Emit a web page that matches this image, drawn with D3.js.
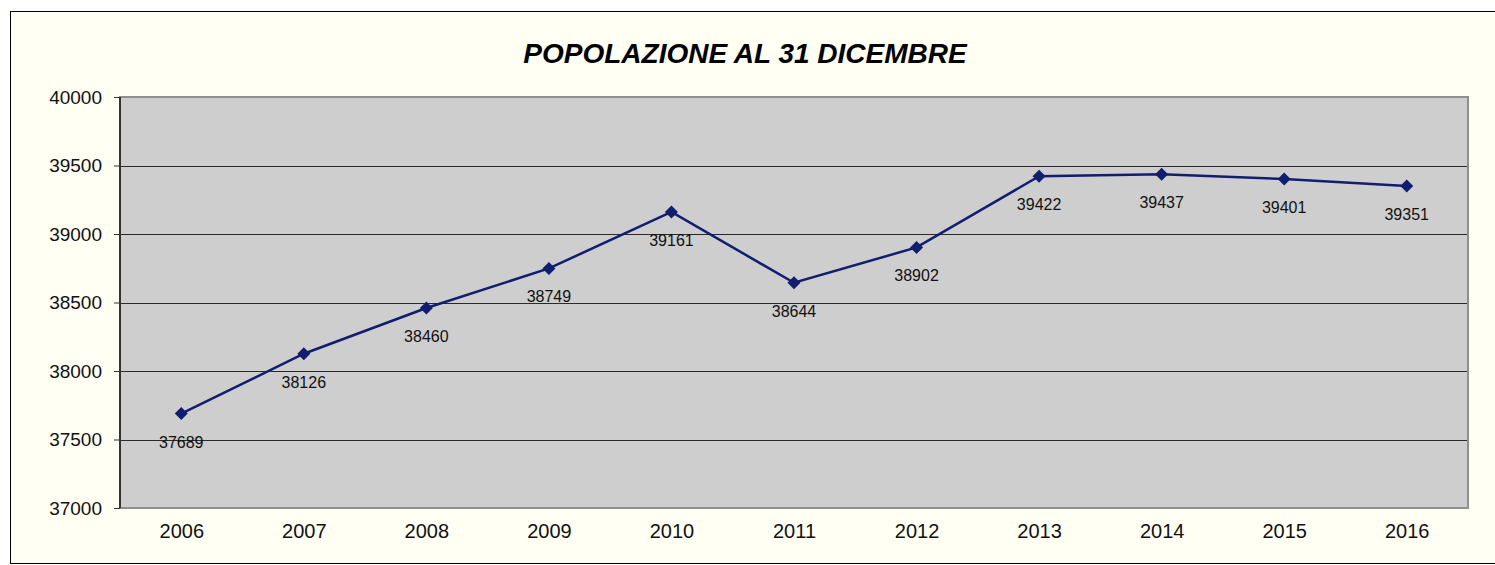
<!DOCTYPE html>
<html>
<head>
<meta charset="utf-8">
<script src="https://cdn.jsdelivr.net/npm/d3@7"></script>
<style>
  html, body { margin: 0; padding: 0; background: #fff; }
  svg { display: block; font-family: Arial, "Liberation Sans", sans-serif; }
</style>
</head>
<body>
<svg id="chart" width="1495" height="565"></svg>
<script>
// data
const years = ["2006", "2007", "2008", "2009", "2010", "2011", "2012", "2013", "2014", "2015", "2016"];
const population = [37689, 38126, 38460, 38749, 39161, 38644, 38902, 39422, 39437, 39401, 39351];
const yTicks = [37000, 37500, 38000, 38500, 39000, 39500, 40000];
const title = "POPOLAZIONE AL 31 DICEMBRE";

const svg = d3.select("#chart");
const plot = { left: 120, top: 97, right: 1468, bottom: 508 };

// outer frame
svg.append("rect")
    .attr("x", 10.5).attr("y", 11.5)
    .attr("width", 1500).attr("height", 552)
    .attr("fill", "#fffff4")
    .attr("stroke", "#000")
    .attr("stroke-width", 1);

svg.append("text")
    .attr("x", 745).attr("y", 63)
    .attr("text-anchor", "middle")
    .attr("font-size", 28)
    .attr("font-weight", "bold")
    .attr("font-style", "italic")
    .text(title);

const x = d3.scalePoint()
    .domain(years)
    .range([plot.left, plot.right])
    .padding(0.5);

const y = d3.scaleLinear()
    .domain([37000, 40000])
    .range([plot.bottom, plot.top]);

// plot background
svg.append("rect")
    .attr("x", plot.left).attr("y", plot.top)
    .attr("width", plot.right - plot.left)
    .attr("height", plot.bottom - plot.top)
    .attr("fill", "#cecece")
    .attr("stroke", "#8f8f8f")
    .attr("stroke-width", 2);

// gridlines
svg.append("g")
    .selectAll("line")
    .data(yTicks.filter(t => t > 37000 && t < 40000))
    .join("line")
    .attr("x1", plot.left).attr("x2", plot.right - 1)
    .attr("y1", d => Math.round(y(d)) + 0.5)
    .attr("y2", d => Math.round(y(d)) + 0.5)
    .attr("stroke", "#2a2a2a")
    .attr("stroke-width", 1);

// y axis
const yAxis = svg.append("g")
    .attr("transform", `translate(${plot.left},0)`)
    .call(d3.axisLeft(y).tickValues(yTicks).tickSize(6).tickPadding(12).tickFormat(d3.format("d")));
yAxis.select(".domain").attr("stroke", "#333").attr("stroke-width", 2).attr("d", `M0,${plot.top}V${plot.bottom}`);
yAxis.selectAll(".tick line").attr("stroke", "#333");
yAxis.selectAll("text").attr("font-size", 19).attr("fill", "#111").attr("font-family", "Arial, 'Liberation Sans', sans-serif");

// x axis labels
const xAxis = svg.append("g")
    .attr("transform", `translate(0,${plot.bottom})`)
    .call(d3.axisBottom(x).tickSize(0).tickPadding(16));
xAxis.select(".domain").remove();
xAxis.selectAll("text").attr("font-size", 20).attr("fill", "#111").attr("font-family", "Arial, 'Liberation Sans', sans-serif");

// line
const line = d3.line()
    .x((d, i) => x(years[i]))
    .y(d => y(d));

svg.append("path")
    .datum(population)
    .attr("d", line)
    .attr("fill", "none")
    .attr("stroke", "#111d6f")
    .attr("stroke-width", 2.5);

// markers
svg.append("g")
    .selectAll("path")
    .data(population)
    .join("path")
    .attr("transform", (d, i) => `translate(${x(years[i])},${y(d)})`)
    .attr("d", "M0,-6.5L6.5,0L0,6.5L-6.5,0Z")
    .attr("fill", "#111d6f");

// value labels
svg.append("g")
    .selectAll("text")
    .data(population)
    .join("text")
    .attr("x", (d, i) => x(years[i]))
    .attr("y", d => y(d) + 34)
    .attr("text-anchor", "middle")
    .attr("font-size", 16)
    .attr("fill", "#111")
    .text(d => d);
</script>
</body>
</html>
